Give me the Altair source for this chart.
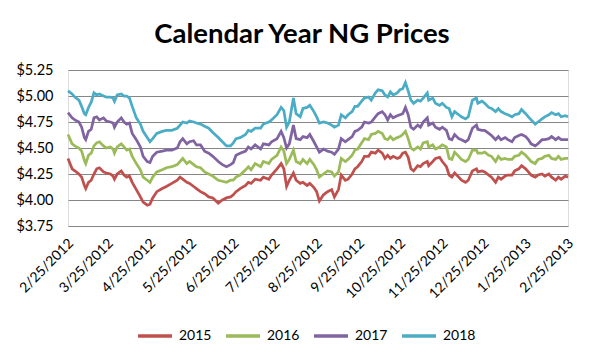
import altair as alt
import pandas as pd

START = "2012-02-25"
series_names = ["2015", "2016", "2017", "2018"]
series_colors = ["#C0504D", "#9BBB59", "#8064A2", "#4BACC6"]

# days since 2/25/2012
days = [0, 3, 5, 8, 10, 12, 13, 15, 17, 19,
        21, 23, 26, 28, 31, 33, 34, 36, 39, 41,
        43, 45, 47, 50, 53, 55, 58, 60, 62, 65,
        69, 72, 76, 80, 82, 84, 87, 89, 92, 94,
        97, 100, 103, 106, 110, 113, 116, 119, 121, 123,
        126, 130, 132, 134, 137, 141, 143, 147, 149, 153,
        156, 158, 160, 162,
        165, 167, 170, 172, 175, 177, 180, 182, 184,
        187, 190, 193, 195, 198,
        200, 203, 205, 208, 210, 212, 215, 217, 220, 222, 225, 227, 230, 232, 234, 236, 238, 241, 243, 245, 247, 249,
        251, 253, 256, 258, 260, 263, 264, 267, 269, 272, 274, 277, 279, 281, 283, 286, 288, 291, 293,
        296, 299, 300,
        303, 305, 308, 310, 313, 315, 317, 320, 322, 325, 327, 330, 332, 335, 337, 339, 342, 344, 347, 349, 352, 354, 357, 359, 361, 364, 366]

p2015 = [4.40, 4.30, 4.28, 4.25, 4.22, 4.14, 4.11, 4.17, 4.19, 4.25,
         4.30, 4.31, 4.27, 4.26, 4.25, 4.23, 4.20, 4.25, 4.28, 4.24,
         4.22, 4.23, 4.17, 4.10, 4.03, 3.98, 3.95, 3.96, 4.02, 4.08,
         4.11, 4.13, 4.16, 4.19, 4.22, 4.20, 4.17, 4.16, 4.13, 4.11,
         4.08, 4.06, 4.03, 4.02, 3.97, 4.00, 4.02, 4.03, 4.05, 4.08,
         4.11, 4.14, 4.17, 4.16, 4.20, 4.19, 4.22, 4.20, 4.24, 4.30,
         4.35, 4.30, 4.13, 4.19,
         4.26, 4.19, 4.16, 4.17, 4.14, 4.16, 4.12, 4.08, 3.99,
         4.05, 4.08, 4.10, 4.03, 4.10,
         4.24, 4.19, 4.20, 4.25, 4.30, 4.32, 4.37, 4.42, 4.42, 4.46, 4.45, 4.48, 4.45, 4.40, 4.43, 4.40, 4.42, 4.40, 4.41, 4.45, 4.46, 4.41,
         4.30, 4.28, 4.33, 4.32, 4.35, 4.37, 4.33, 4.37, 4.40, 4.41, 4.37, 4.32, 4.24, 4.22, 4.26, 4.22, 4.19, 4.17, 4.19,
         4.28, 4.30, 4.27,
         4.28, 4.27, 4.24, 4.22, 4.17, 4.22, 4.20, 4.23, 4.24, 4.24, 4.28, 4.30, 4.33, 4.30, 4.27, 4.24, 4.22, 4.24, 4.25, 4.23, 4.25, 4.22, 4.19, 4.22, 4.20, 4.23, 4.22]

p2016 = [4.63, 4.54, 4.52, 4.50, 4.47, 4.38, 4.35, 4.43, 4.45, 4.52,
         4.55, 4.56, 4.52, 4.50, 4.51, 4.49, 4.45, 4.51, 4.54, 4.51,
         4.48, 4.49, 4.42, 4.35, 4.29, 4.22, 4.19, 4.17, 4.22, 4.27,
         4.29, 4.31, 4.32, 4.34, 4.37, 4.40, 4.35, 4.37, 4.34, 4.32,
         4.31, 4.27, 4.25, 4.23, 4.19, 4.18, 4.17, 4.19, 4.19, 4.22,
         4.24, 4.29, 4.32, 4.29, 4.35, 4.32, 4.37, 4.35, 4.39, 4.43,
         4.51, 4.47, 4.35, 4.39,
         4.48, 4.37, 4.35, 4.39, 4.35, 4.39, 4.34, 4.29, 4.22,
         4.25, 4.28, 4.27, 4.23, 4.27,
         4.40, 4.37, 4.39, 4.43, 4.48, 4.49, 4.55, 4.59, 4.58, 4.63, 4.64, 4.66, 4.64, 4.59, 4.58, 4.61, 4.58, 4.60, 4.61, 4.63, 4.66, 4.59,
         4.50, 4.48, 4.51, 4.49, 4.55, 4.56, 4.51, 4.53, 4.49, 4.51, 4.53, 4.51, 4.40, 4.39, 4.46, 4.42, 4.39, 4.37, 4.39,
         4.48, 4.48, 4.45,
         4.45, 4.46, 4.43, 4.42, 4.37, 4.42, 4.39, 4.40, 4.39, 4.39, 4.42, 4.43, 4.46, 4.43, 4.40, 4.37, 4.35, 4.39, 4.40, 4.42, 4.43, 4.40, 4.39, 4.42, 4.39, 4.40, 4.40]

p2017 = [4.84, 4.79, 4.77, 4.75, 4.70, 4.60, 4.58, 4.66, 4.68, 4.79,
         4.80, 4.77, 4.79, 4.76, 4.75, 4.74, 4.70, 4.75, 4.79, 4.75,
         4.73, 4.74, 4.64, 4.58, 4.51, 4.42, 4.37, 4.36, 4.42, 4.46,
         4.47, 4.48, 4.48, 4.50, 4.56, 4.59, 4.54, 4.56, 4.57, 4.53,
         4.53, 4.47, 4.45, 4.42, 4.37, 4.34, 4.32, 4.34, 4.36, 4.43,
         4.45, 4.47, 4.51, 4.49, 4.53, 4.49, 4.54, 4.53, 4.56, 4.59,
         4.66, 4.60, 4.50, 4.54,
         4.72, 4.59, 4.58, 4.61, 4.60, 4.63, 4.56, 4.51, 4.46,
         4.49, 4.47, 4.46, 4.44, 4.49,
         4.59, 4.56, 4.58, 4.61, 4.66, 4.67, 4.70, 4.75, 4.74, 4.75, 4.80, 4.83, 4.85, 4.82, 4.77, 4.82, 4.79, 4.81, 4.82, 4.83, 4.89, 4.82,
         4.70, 4.68, 4.72, 4.70, 4.75, 4.79, 4.72, 4.74, 4.70, 4.68, 4.70, 4.67, 4.59, 4.58, 4.63, 4.59, 4.58, 4.56, 4.58,
         4.69, 4.72, 4.68,
         4.67, 4.67, 4.64, 4.62, 4.58, 4.61, 4.58, 4.60, 4.58, 4.56, 4.60, 4.62, 4.63, 4.61, 4.58, 4.54, 4.52, 4.54, 4.58, 4.58, 4.59, 4.61, 4.58, 4.60, 4.58, 4.58, 4.58]

p2018 = [5.05, 5.02, 4.99, 4.96, 4.90, 4.83, 4.82, 4.89, 4.94, 5.03,
         5.01, 5.02, 5.00, 4.99, 4.99, 4.98, 4.95, 5.01, 5.02, 5.00,
         5.00, 4.98, 4.90, 4.79, 4.73, 4.66, 4.60, 4.56, 4.59, 4.64,
         4.66, 4.67, 4.67, 4.69, 4.72, 4.75, 4.74, 4.76, 4.75, 4.74,
         4.73, 4.71, 4.69, 4.65, 4.60, 4.56, 4.52, 4.52, 4.55, 4.59,
         4.60, 4.63, 4.67, 4.66, 4.69, 4.69, 4.73, 4.75, 4.77, 4.82,
         4.89, 4.86, 4.70, 4.75,
         4.98, 4.83, 4.80, 4.88, 4.89, 4.91, 4.85, 4.80, 4.74,
         4.75, 4.74, 4.72, 4.70, 4.72,
         4.82, 4.79, 4.82, 4.85, 4.90, 4.90, 4.95, 4.98, 4.99, 4.96, 5.03, 5.06, 5.05, 5.01, 4.99, 5.04, 5.01, 5.03, 5.06, 5.07, 5.13, 5.05,
         4.96, 4.93, 4.96, 4.95, 4.98, 5.03, 4.96, 4.98, 4.93, 4.91, 4.93, 4.89, 4.88, 4.80, 4.85, 4.82, 4.80, 4.78, 4.80,
         4.96, 4.98, 4.93,
         4.95, 4.93, 4.89, 4.88, 4.85, 4.88, 4.85, 4.83, 4.82, 4.80, 4.82, 4.83, 4.87, 4.83, 4.80, 4.77, 4.73, 4.75, 4.78, 4.80, 4.82, 4.84, 4.82, 4.83, 4.80, 4.81, 4.80]

x_tick_dates = ["2012-02-25", "2012-03-25", "2012-04-25", "2012-05-25", "2012-06-25",
                "2012-07-25", "2012-08-25", "2012-09-25", "2012-10-25", "2012-11-25",
                "2012-12-25", "2013-01-25", "2013-02-25"]
y_ticks = [3.75, 4.00, 4.25, 4.50, 4.75, 5.00, 5.25]

dates = pd.Timestamp(START) + pd.to_timedelta(days, unit="D")
frames = []
for name, vals in zip(series_names, [p2015, p2016, p2017, p2018]):
    frames.append(pd.DataFrame({"date": dates.strftime("%Y-%m-%d"), "price": vals, "series": name}))
df = pd.concat(frames, ignore_index=True)

FONT = "Lato"

chart = alt.Chart(df).mark_line(strokeWidth=2.75).encode(
    x=alt.X("date:T",
            scale=alt.Scale(domain=[x_tick_dates[0], x_tick_dates[-1]]),
            axis=alt.Axis(values=x_tick_dates, format="%-m/%-d/%Y", title=None,
                          labelAngle=-45, labelAlign="right", labelBaseline="middle",
                          labelPadding=15, labelOffset=3, labelOverlap=False,
                          labelFlush=False, labelBound=False, grid=False, ticks=False,
                          domain=False, labelFont=FONT, labelFontSize=14,
                          labelColor="#000000")),
    y=alt.Y("price:Q",
            scale=alt.Scale(domain=[3.75, 5.25], nice=False, zero=False),
            axis=alt.Axis(values=y_ticks, format="$.2f", title=None, grid=True,
                          gridColor="#868686", gridWidth=1, ticks=False, domain=False,
                          labelPadding=15, labelFont=FONT, labelFontSize=14.5,
                          labelColor="#000000")),
    color=alt.Color("series:N",
                    scale=alt.Scale(domain=series_names, range=series_colors),
                    legend=alt.Legend(orient="none", legendX=68, legendY=247,
                                      direction="horizontal", title=None,
                                      symbolType="stroke", symbolSize=1156,
                                      symbolStrokeWidth=3.5, labelFont=FONT,
                                      labelFontSize=14, labelColor="#000000",
                                      labelOffset=5, columnPadding=7)),
).properties(
    width=500,
    height=156,
    autosize=alt.AutoSizeParams(type="none"),
    padding={"left": 60, "top": 62, "right": 25, "bottom": 125},
    title=alt.TitleParams("Calendar Year NG Prices", font=FONT, fontSize=27.5,
                          fontWeight="bold", color="#000000", anchor="middle",
                          dx=-16, offset=14),
).configure_view(strokeWidth=0).configure(background="#ffffff")

chart.save("out.html", embed_options={"renderer": "svg", "actions": False})
